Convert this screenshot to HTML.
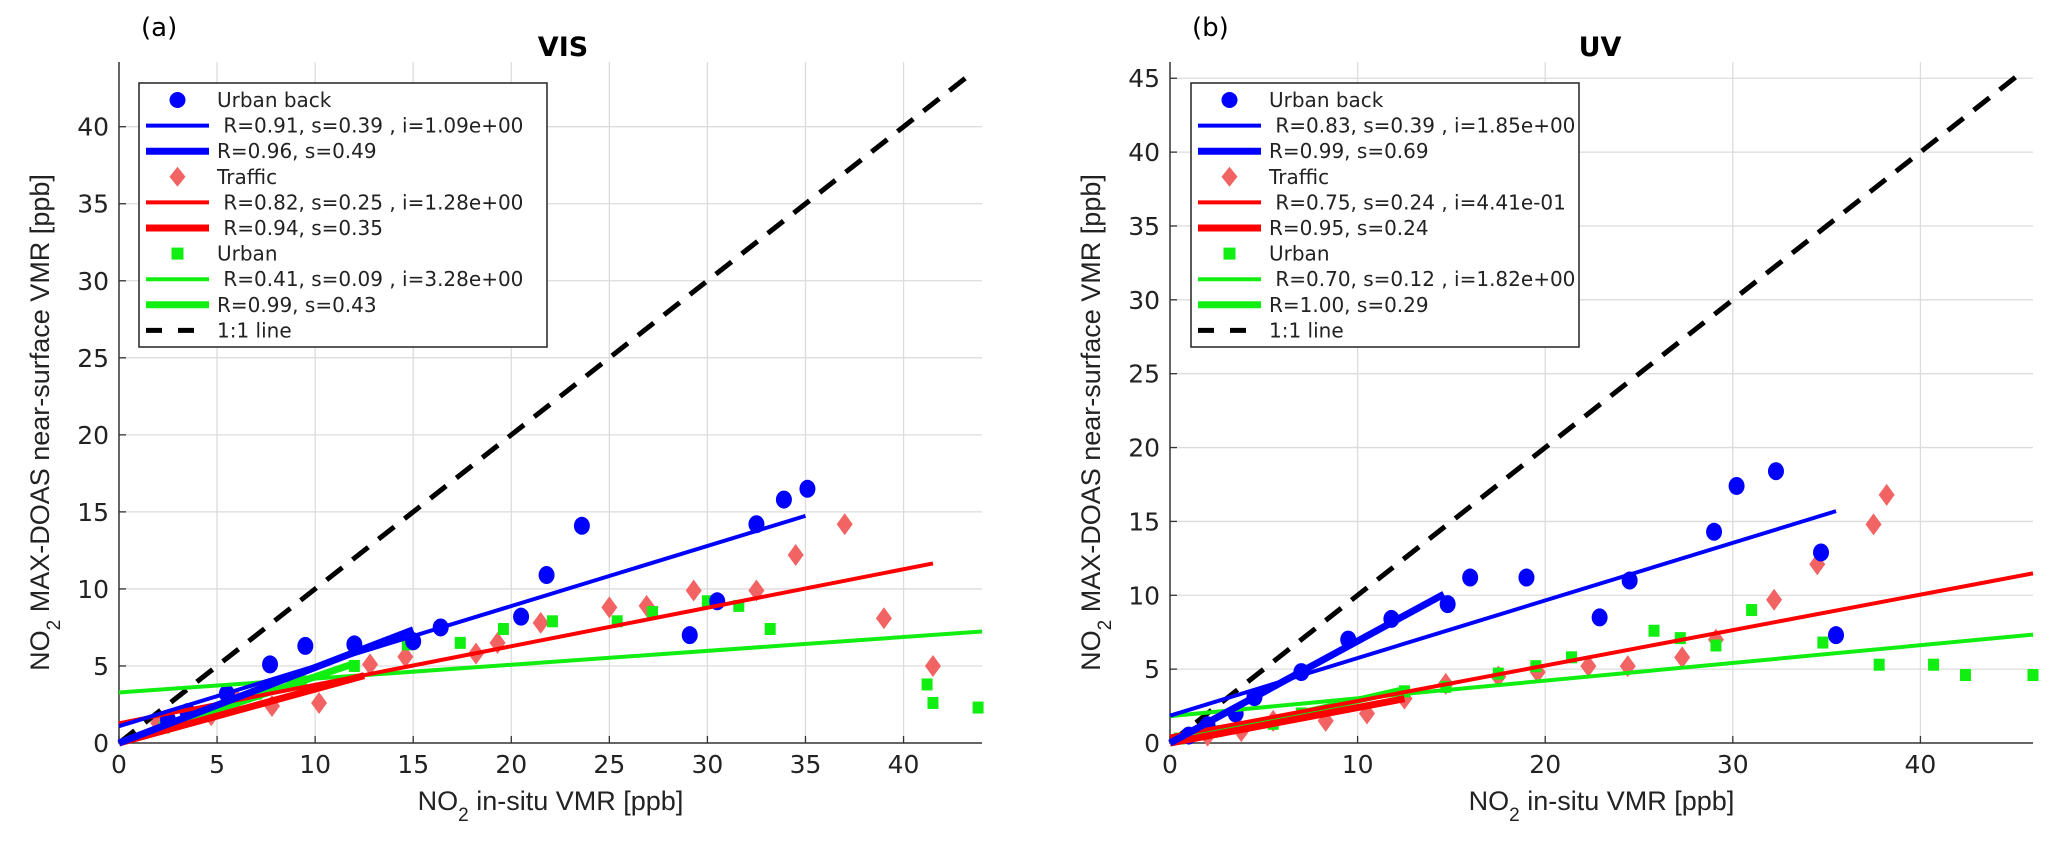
<!DOCTYPE html>
<html><head><meta charset="utf-8"><style>
html,body{margin:0;padding:0;background:#fff}
svg{display:block;font-family:"DejaVu Sans","Liberation Sans",sans-serif}
</style></head><body>
<svg id="fig" width="2068" height="848" viewBox="0 0 2068 848" xmlns="http://www.w3.org/2000/svg"></svg>
<script>
// ---------- Panel (a) VIS data ----------
const aUrbanBackX=[2.5,3.5,5.5,7.7,9.5,12,15,16.4,20.5,21.8,23.6,29.1,30.5,32.5,33.9,35.1];
const aUrbanBackY=[1.5,2,3.2,5.1,6.3,6.4,6.6,7.5,8.2,10.9,14.1,7.0,9.2,14.2,15.8,16.5];
const aTrafficX=[2,4.7,6,7.8,10.2,12.8,14.6,18.2,19.3,21.5,25,26.9,29.3,32.5,34.5,37,39,41.5];
const aTrafficY=[1.3,1.8,2.8,2.4,2.6,5.1,5.6,5.8,6.5,7.8,8.8,8.9,9.9,9.9,12.2,14.2,8.1,5.0];
const aUrbanX=[2.3,3.5,5.5,7,9.3,12,14.7,17.4,19.6,22.1,25.4,27.2,30,31.6,33.2,41.2,41.5,43.8];
const aUrbanY=[1,1.8,2.2,3.2,4,5,6.4,6.5,7.4,7.9,7.9,8.5,9.2,8.9,7.4,3.8,2.6,2.3];
const aFitSlope=[0.39,0.49,0.25,0.35,0.09,0.43];
const aFitIntercept=[1.09,0,1.28,0,3.28,0];
const aFitXmax=[35,15,41.5,12.5,44,12];
const aLegendText=["Urban back"," R=0.91, s=0.39 , i=1.09e+00","R=0.96, s=0.49","Traffic"," R=0.82, s=0.25 , i=1.28e+00"," R=0.94, s=0.35","Urban"," R=0.41, s=0.09 , i=3.28e+00","R=0.99, s=0.43","1:1 line"];
// ---------- Panel (b) UV data ----------
const bUrbanBackX=[1,2,3.5,4.5,7,9.5,11.8,14.8,16,19,22.9,24.5,29,30.2,32.3,34.7,35.5];
const bUrbanBackY=[0.5,1.2,2,3.1,4.8,7,8.4,9.4,11.2,11.2,8.5,11,14.3,17.4,18.4,12.9,7.3];
const bTrafficX=[2,3.8,5.5,8.3,10.5,12.5,14.7,17.5,19.6,22.3,24.4,27.3,29.1,32.2,34.5,37.5,38.2];
const bTrafficY=[0.5,0.8,1.5,1.5,2,3,4,4.5,4.8,5.2,5.2,5.8,7,9.7,12.1,14.8,16.8];
const bUrbanX=[0.5,2.5,5.5,7,12.5,14.7,17.5,19.5,21.4,25.8,27.2,29.1,31,34.8,37.8,40.7,42.4,46];
const bUrbanY=[0.3,0.8,1.3,2,3.5,3.8,4.7,5.2,5.8,7.6,7.1,6.6,9,6.8,5.3,5.3,4.6,4.6];
const bFitSlope=[0.39,0.69,0.24,0.24,0.12,0.29];
const bFitIntercept=[1.85,0,0.441,0,1.82,0];
const bFitXmax=[35.5,14.6,46,12.5,46,12.5];
const bLegendText=["Urban back"," R=0.83, s=0.39 , i=1.85e+00","R=0.99, s=0.69","Traffic"," R=0.75, s=0.24 , i=4.41e-01","R=0.95, s=0.24","Urban"," R=0.70, s=0.12 , i=1.82e+00","R=1.00, s=0.29","1:1 line"];
const aXTicks=[0,5,10,15,20,25,30,35,40];
const aYTicks=[0,5,10,15,20,25,30,35,40];
const bXTicks=[0,10,20,30,40];
const bYTicks=[0,5,10,15,20,25,30,35,40,45];

const NS="http://www.w3.org/2000/svg";
const svg=document.getElementById('fig');
function mk(tag,attrs,parent){const e=document.createElementNS(NS,tag);for(const k in attrs)e.setAttribute(k,attrs[k]);(parent||svg).appendChild(e);return e;}

const BLUE="#0000ff",RED="#ff0000",DIAM="#f26464",GREEN="#11ee11";
const fitColors=[BLUE,BLUE,RED,RED,GREEN,GREEN];
const fitWidths=[4,7,4,7,4,7];

function panel(cfg){
  const g=mk('g',{});
  
  
  const sx=v=>cfg.x0+(v-0)/(cfg.xmax)*(cfg.x1-cfg.x0);
  const sy=v=>cfg.y0-(v)/(cfg.ymax)*(cfg.y0-cfg.y1);
  cfg.xt.forEach(t=>{if(t>0){const l=mk('line',{x1:sx(t),x2:sx(t),y1:cfg.y1,y2:cfg.y0,stroke:"#dcdcdc","stroke-width":1.3},g);}});
  cfg.yt.forEach(t=>{if(t>0){const l=mk('line',{x1:cfg.x0,x2:cfg.x1,y1:sy(t),y2:sy(t),stroke:"#dcdcdc","stroke-width":1.3},g);}});
  const ax=mk('path',{d:`M${cfg.x0},${cfg.y1}V${cfg.y0}H${cfg.x1}`,fill:"none",stroke:"#333","stroke-width":1.5},g);
  
  cfg.xt.forEach(t=>{
    mk('line',{x1:sx(t),x2:sx(t),y1:cfg.y0,y2:cfg.y0-7,stroke:"#333","stroke-width":1.3},g);
    const tx=mk('text',{x:sx(t),y:cfg.y0+30,"text-anchor":"middle","font-size":25,fill:"#222"},g);tx.textContent=t;
    
  });
  cfg.yt.forEach(t=>{
    mk('line',{x1:cfg.x0,x2:cfg.x0+7,y1:sy(t),y2:sy(t),stroke:"#333","stroke-width":1.3},g);
    const tx=mk('text',{x:cfg.x0-10,y:sy(t)+9,"text-anchor":"end","font-size":25,fill:"#222"},g);tx.textContent=t;
    
  });
  const dmax=Math.min(cfg.xmax,cfg.ymax)-0.8;
  const one=mk('line',{x1:sx(0),y1:sy(0),x2:sx(dmax),y2:sy(dmax),stroke:"#000","stroke-width":5,"stroke-dasharray":"20,13"},g);
  
  cfg.tX.forEach((v,i)=>{const x=sx(v),y=sy(cfg.tY[i]);const d=mk('path',{d:`M${x},${y-11}L${x+8},${y}L${x},${y+11}L${x-8},${y}Z`,fill:DIAM},g);
    });
  cfg.uX.forEach((v,i)=>{const x=sx(v),y=sy(cfg.uY[i]);const r=mk('rect',{x:x-5.5,y:y-6,width:11,height:12,fill:GREEN},g);
    });
  cfg.bX.forEach((v,i)=>{const c=mk('ellipse',{cx:sx(v),cy:sy(cfg.bY[i]),rx:8,ry:9,fill:BLUE},g);
    });
  const order=[4,5,2,3,0,1];
  order.forEach(i=>{
    const l=mk('line',{x1:sx(0),y1:sy(cfg.fi[i]),x2:sx(cfg.fm[i]),y2:sy(cfg.fi[i]+cfg.fs[i]*cfg.fm[i]),stroke:fitColors[i],"stroke-width":fitWidths[i]},g);
    
  });
  const tt=mk('text',{x:cfg.titleX,y:56,"text-anchor":"middle","font-size":27,"font-weight":"bold",fill:"#000"},g);tt.textContent=cfg.title;
  
  const pl=mk('text',{x:cfg.x0+22,y:36,"font-size":26,fill:"#000"},g);pl.textContent=cfg.label;
  
  const xl=mk('text',{x:(cfg.x0+cfg.x1)/2,y:810,"text-anchor":"middle","font-size":27,fill:"#222","font-family":"Liberation Sans Narrow, Liberation Sans, sans-serif"},g);
  xl.innerHTML='NO<tspan baseline-shift="sub" font-size="19">2</tspan> in-situ VMR [ppb]';
  
  const yx=cfg.x0-70, yy=(cfg.y0+cfg.y1)/2+20;
  const yl=mk('text',{x:yx,y:yy,"text-anchor":"middle","font-size":27,fill:"#222",transform:`rotate(-90 ${yx} ${yy})`,"font-family":"Liberation Sans Narrow, Liberation Sans, sans-serif"},g);
  yl.innerHTML='NO<tspan baseline-shift="sub" font-size="19">2</tspan> MAX-DOAS near-surface VMR [ppb]';
  
  const lg=mk('g',{},g);
  
  const L=cfg.leg;
  mk('rect',{x:L.x,y:L.y,width:L.w,height:264,fill:"#fff",stroke:"#222","stroke-width":1.5},lg);
  const rowH=25.6;
  const types=['c','l','L','d','l','L','s','l','L','k'];
  const cols=[BLUE,BLUE,BLUE,DIAM,RED,RED,GREEN,GREEN,GREEN,"#000"];
  cfg.lt.forEach((txt,i)=>{
    const cy=L.y+17+i*rowH, sx0=L.x+7, sx1=L.x+70, mx=(sx0+sx1)/2;
    let m;
    if(types[i]==='c'){m=mk('ellipse',{cx:mx,cy:cy,rx:8,ry:8,fill:BLUE},lg);}
    else if(types[i]==='d'){m=mk('path',{d:`M${mx},${cy-10}L${mx+8},${cy}L${mx},${cy+10}L${mx-8},${cy}Z`,fill:DIAM},lg);}
    else if(types[i]==='s'){m=mk('rect',{x:mx-6,y:cy-6,width:12,height:12,fill:GREEN},lg);}
    else if(types[i]==='k'){m=mk('line',{x1:sx0,x2:sx1,y1:cy,y2:cy,stroke:"#000","stroke-width":5,"stroke-dasharray":"16,16"},lg);}
    else {m=mk('line',{x1:sx0,x2:sx1,y1:cy,y2:cy,stroke:cols[i],"stroke-width":types[i]==='l'?4:7},lg);}
    
    const t=mk('text',{x:L.x+78,y:cy+7,"font-size":20,fill:"#222","xml:space":"preserve"},lg);
    t.textContent=txt.replace(/^ /,'\u00a0');
    
  });
}
panel({name:'panel-a-vis',x0:119,x1:982,y0:743,y1:62,xmax:44,ymax:44.2,xt:aXTicks,yt:aYTicks,
  bX:aUrbanBackX,bY:aUrbanBackY,tX:aTrafficX,tY:aTrafficY,uX:aUrbanX,uY:aUrbanY,
  fs:aFitSlope,fi:aFitIntercept,fm:aFitXmax,title:'VIS',titleX:563,label:'(a)',lt:aLegendText,leg:{x:139,y:83,w:408}});
panel({name:'panel-b-uv',x0:1170,x1:2033,y0:743,y1:62,xmax:46,ymax:46.1,xt:bXTicks,yt:bYTicks,
  bX:bUrbanBackX,bY:bUrbanBackY,tX:bTrafficX,tY:bTrafficY,uX:bUrbanX,uY:bUrbanY,
  fs:bFitSlope,fi:bFitIntercept,fm:bFitXmax,title:'UV',titleX:1600,label:'(b)',lt:bLegendText,leg:{x:1191,y:83,w:388}});
</script>
</body></html>
